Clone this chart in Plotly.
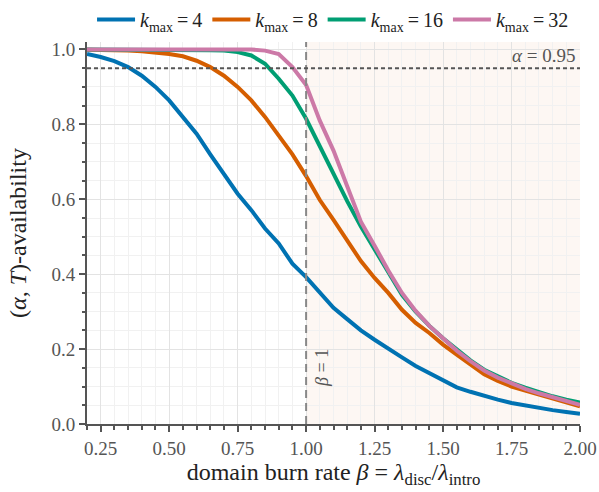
import plotly.graph_objects as go

beta = [0.20, 0.25, 0.30, 0.35, 0.40, 0.45, 0.50, 0.55, 0.60, 0.65, 0.70, 0.75,
        0.80, 0.85, 0.90, 0.95, 1.00, 1.05, 1.10, 1.15, 1.20, 1.25, 1.30, 1.35,
        1.40, 1.45, 1.50, 1.55, 1.60, 1.65, 1.70, 1.75, 1.80, 1.85, 1.90, 1.95, 2.00]

k4 = [0.988, 0.980, 0.969, 0.953, 0.930, 0.900, 0.864, 0.820, 0.775, 0.720, 0.668, 0.615,
      0.571, 0.522, 0.482, 0.428, 0.392, 0.350, 0.310, 0.280, 0.250, 0.225, 0.200, 0.178,
      0.155, 0.135, 0.117, 0.098, 0.086, 0.075, 0.065, 0.056, 0.049, 0.043, 0.037, 0.032, 0.027]
k8 = [0.999, 0.999, 0.998, 0.997, 0.995, 0.992, 0.988, 0.982, 0.970, 0.953, 0.930, 0.900,
      0.864, 0.820, 0.770, 0.720, 0.662, 0.598, 0.545, 0.490, 0.435, 0.390, 0.350, 0.305,
      0.270, 0.243, 0.212, 0.185, 0.158, 0.133, 0.115, 0.100, 0.089, 0.079, 0.068, 0.058, 0.047]
k16 = [1.000, 1.000, 1.000, 1.000, 1.000, 1.000, 1.000, 0.999, 0.999, 0.998, 0.997, 0.993,
       0.984, 0.962, 0.922, 0.877, 0.815, 0.740, 0.670, 0.595, 0.527, 0.465, 0.405, 0.345,
       0.300, 0.262, 0.229, 0.198, 0.170, 0.145, 0.127, 0.110, 0.097, 0.085, 0.074, 0.065, 0.057]
k32 = [1.000, 1.000, 1.000, 1.000, 1.000, 1.000, 1.000, 1.000, 1.000, 1.000, 1.000, 1.000,
       1.000, 0.997, 0.988, 0.953, 0.905, 0.810, 0.730, 0.635, 0.540, 0.476, 0.410, 0.350,
       0.302, 0.262, 0.228, 0.196, 0.168, 0.143, 0.124, 0.108, 0.094, 0.082, 0.071, 0.061, 0.051]

kmax_labels = ["4", "8", "16", "32"]
series = [k4, k8, k16, k32]
colors = ["#0072B2", "#D55E00", "#009E73", "#CC79A7"]

alpha = 0.95
beta_crit = 1.0

FONT = "Liberation Serif, Times New Roman, serif"

fig = go.Figure()
for lab, ys, c in zip(kmax_labels, series, colors):
    fig.add_trace(go.Scatter(
        x=beta, y=ys, mode="lines",
        name=f"<i>k</i><sub>max</sub>\u2009=\u2009{lab}",
        line=dict(color=c, width=4),
    ))

# shaded supercritical region
fig.add_shape(type="rect", xref="x", yref="paper", x0=beta_crit, x1=2.0, y0=0, y1=1,
              fillcolor="rgba(235,170,120,0.09)", line=dict(width=0), layer="below")
# reference lines
fig.add_shape(type="line", xref="x", yref="paper", x0=beta_crit, x1=beta_crit, y0=0, y1=1,
              line=dict(color="#888888", width=2, dash="8px,5px"))
fig.add_shape(type="line", xref="paper", yref="y", x0=0, x1=1, y0=alpha, y1=alpha,
              line=dict(color="#555555", width=2, dash="4px,3px"))

fig.add_annotation(x=1.0, xref="paper", y=alpha, yref="y", xanchor="right", yanchor="bottom",
                   text=f"<i>α</i> = {alpha}", showarrow=False, xshift=-3, yshift=0,
                   font=dict(family=FONT, size=19, color="#555555"))
fig.add_annotation(x=beta_crit, xref="x", y=0.15, yref="y", xanchor="center", yanchor="middle",
                   text="<i>β</i> = 1", showarrow=False, textangle=-90, xshift=16,
                   font=dict(family=FONT, size=18, color="#555555"))
# y-axis title as annotation for precise placement
fig.add_annotation(x=-0.14, xref="paper", y=0.5, yref="paper", xanchor="center", yanchor="middle",
                   text="(<i>α</i>, <i>T</i>)-availability", showarrow=False, textangle=-90,
                   font=dict(family=FONT, size=24, color="#222222"))

axis_common = dict(
    showline=True, linecolor="#555555", linewidth=2,
    ticks="outside", ticklen=6, tickwidth=1.5, tickcolor="#555555",
    showgrid=True, gridcolor="#e3e3e3", gridwidth=1,
    zeroline=False, automargin=False,
    tickfont=dict(family=FONT, size=19, color="#555555"),
)

fig.update_xaxes(
    range=[0.2, 2.0], tick0=0.25, dtick=0.25, tickformat=".2f",
    minor=dict(dtick=0.05, tick0=0.2, ticks="outside", ticklen=3.5, tickcolor="#555555",
               showgrid=True, gridcolor="#f1f1f1", gridwidth=1),
    title=dict(text="domain burn rate <i>β</i> = <i>λ</i><sub>disc</sub>/<i>λ</i><sub>intro</sub>",
               font=dict(family=FONT, size=24, color="#222222"), standoff=5),
    **axis_common,
)
fig.update_yaxes(
    range=[0, 1.02], tick0=0, dtick=0.2, tickformat=".1f",
    minor=dict(dtick=0.05, tick0=0, ticks="outside", ticklen=3.5, tickcolor="#555555",
               showgrid=True, gridcolor="#f1f1f1", gridwidth=1),
    **axis_common,
)

fig.update_layout(
    width=599, height=492,
    margin=dict(l=87, r=19, t=42, b=68),
    plot_bgcolor="white", paper_bgcolor="white",
    font=dict(family=FONT, color="#222222"),
    showlegend=True,
    legend=dict(orientation="h", x=0.556, xanchor="center", xref="container",
                y=1.0, yanchor="top", yref="container",
                font=dict(family=FONT, size=20, color="#222222"),
                itemwidth=38, tracegroupgap=0, bgcolor="rgba(0,0,0,0)"),
)

fig.write_html("out.html", config={"displayModeBar": False},
               post_script="document.body.style.margin='0px';")
